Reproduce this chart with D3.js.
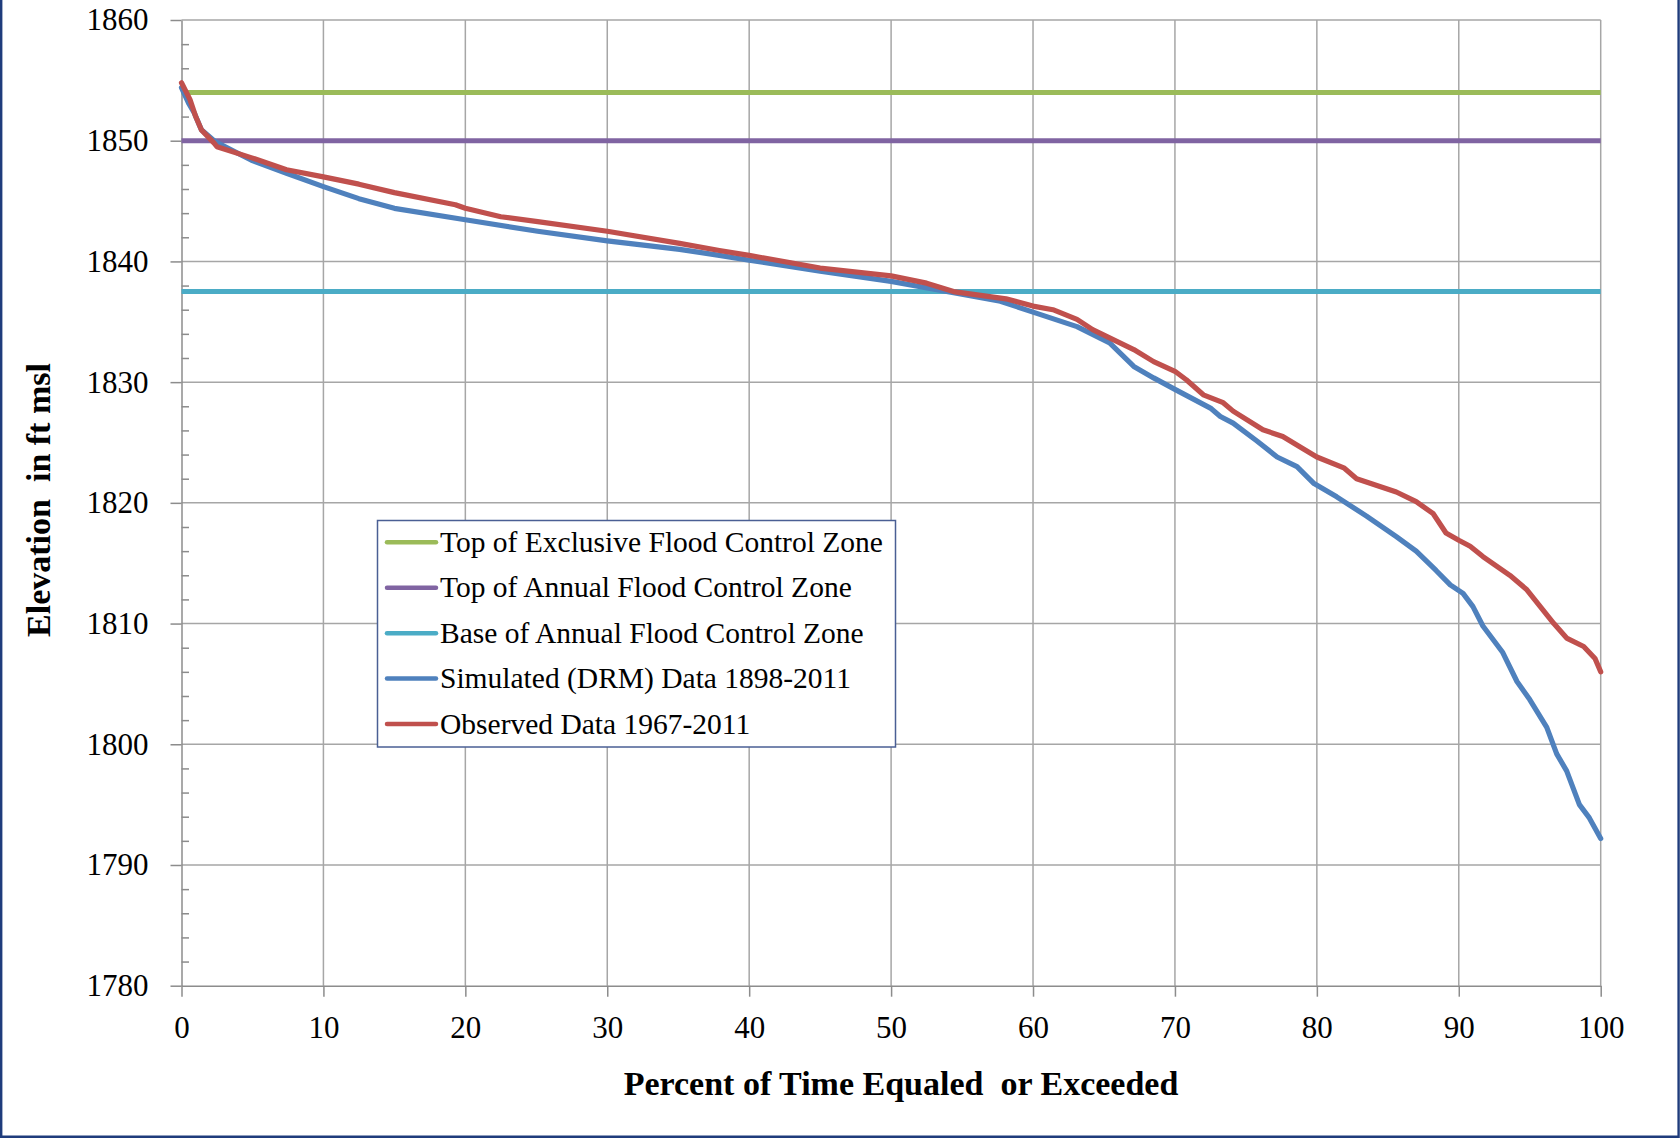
<!DOCTYPE html>
<html>
<head>
<meta charset="utf-8">
<script src="https://cdn.jsdelivr.net/npm/d3@7/dist/d3.min.js"></script>
<style>
  html, body { margin: 0; padding: 0; background: #fff; }
  svg { display: block; }
  text { font-family: "Liberation Serif", "Times New Roman", serif; fill: #000; }
</style>
</head>
<body>
<svg id="chart" width="1680" height="1138"></svg>
<script>
// ---- Data ----
const xTicks = [0, 10, 20, 30, 40, 50, 60, 70, 80, 90, 100];
const yTicks = [1780, 1790, 1800, 1810, 1820, 1830, 1840, 1850, 1860];

const topExclusive = 1854;
const topAnnual = 1850;
const baseAnnual = 1837.5;

const simX = [0, 0.5, 0.9, 1.4, 2.4, 4.9, 7.4, 10, 12.5, 15, 20, 25.1, 30, 35.1, 37.9, 40, 45, 50, 54.4, 57.7, 60, 63.1, 65.4, 67.1, 68.5, 70, 72.5, 73.2, 74.1, 75.8, 77.2, 78.6, 79.8, 81.4, 83.5, 85.6, 87, 88.4, 89.4, 90.3, 91, 91.7, 93.1, 94.1, 95, 96.2, 96.9, 97.6, 98.5, 99.2, 100];
const simY = [1854.4, 1853.1, 1852.3, 1850.9, 1849.9, 1848.4, 1847.3, 1846.2, 1845.2, 1844.4, 1843.45, 1842.5, 1841.7, 1841.0, 1840.5, 1840.1, 1839.2, 1838.35, 1837.4, 1836.7, 1835.8, 1834.6, 1833.25, 1831.3, 1830.35, 1829.4, 1827.85, 1827.15, 1826.6, 1825.1, 1823.8, 1823.0, 1821.6, 1820.5, 1818.9, 1817.2, 1816.0, 1814.4, 1813.2, 1812.5, 1811.4, 1809.8, 1807.6, 1805.2, 1803.7, 1801.4, 1799.2, 1797.8, 1795.0, 1793.9, 1792.2];

const obsX = [0, 0.6, 1.0, 1.4, 2.3, 2.5, 4.9, 7.4, 10, 12.5, 15, 19.3, 20, 22.5, 25.1, 30, 35.1, 37.9, 40, 45, 50, 52.5, 54.4, 58.1, 60, 61.4, 63.1, 64.2, 67.1, 68.5, 70, 70.8, 72, 73.4, 74.1, 76.2, 77.6, 79, 80, 81.9, 82.8, 85.6, 87, 88.2, 89.1, 90, 90.8, 91.7, 93.6, 94.8, 96.7, 97.6, 98.8, 99.6, 100];
const obsY = [1854.8, 1853.4, 1852.0, 1850.9, 1849.8, 1849.5, 1848.6, 1847.6, 1847.0, 1846.4, 1845.7, 1844.7, 1844.4, 1843.7, 1843.3, 1842.5, 1841.5, 1840.9, 1840.5, 1839.45, 1838.8, 1838.2, 1837.5, 1836.9, 1836.3, 1836.0, 1835.2, 1834.35, 1832.7, 1831.7, 1830.9, 1830.2, 1828.95, 1828.3, 1827.6, 1826.05, 1825.5, 1824.5, 1823.8, 1822.9, 1822.0, 1820.9, 1820.1, 1819.1, 1817.5, 1816.9, 1816.4, 1815.55, 1814.0, 1812.8, 1810.0, 1808.8, 1808.1, 1807.1, 1806.0];

const seriesNames = [
  "Top of Exclusive Flood Control Zone",
  "Top of Annual Flood Control Zone",
  "Base of Annual Flood Control Zone",
  "Simulated (DRM) Data 1898-2011",
  "Observed Data 1967-2011"
];
const seriesColors = ["#9bbb59", "#8064a2", "#4bacc6", "#4f81bd", "#c0504d"];

// ---- Layout ----
const svg = d3.select("#chart");
const L = 181.5, R = 1600.7, T = 20, B = 985.7;
const x = d3.scaleLinear().domain([0, 100]).range([L, R]);
const y = d3.scaleLinear().domain([1780, 1860]).range([B, T]);

// outer frame (left, bottom, right)
svg.append("path")
  .attr("d", `M1.2,0 V1136.8 H1678.6 V0`)
  .attr("fill", "none").attr("stroke", "#1f3c7c").attr("stroke-width", 2.4);

// gridlines
const grid = svg.append("g").attr("stroke", "#a6a6a6").attr("stroke-width", 1.5);
grid.selectAll("line.v").data(xTicks.filter(d => d > 0)).enter().append("line")
  .attr("x1", d => x(d)).attr("x2", d => x(d)).attr("y1", T).attr("y2", B);
grid.selectAll("line.h").data(yTicks.filter(d => d > 1780)).enter().append("line")
  .attr("x1", L).attr("x2", R).attr("y1", d => y(d)).attr("y2", d => y(d));

// y axis major
svg.append("g").attr("transform", `translate(${L},0)`)
  .call(d3.axisLeft(y).tickValues(yTicks).tickSize(11).tickPadding(22).tickSizeOuter(0).tickFormat(d3.format("d")));
// y minor ticks (inside)
const minorVals = d3.range(1780, 1861, 2).filter(v => v % 10 !== 0);
svg.append("g").attr("transform", `translate(${L},0)`)
  .call(d3.axisRight(y).tickValues(minorVals).tickSize(7.5).tickFormat("").tickSizeOuter(0))
  .call(g => g.select(".domain").remove());

// x axis
svg.append("g").attr("transform", `translate(0,${B})`)
  .call(d3.axisBottom(x).tickValues(xTicks).tickSize(11).tickPadding(19).tickSizeOuter(0).tickFormat(d3.format("d")));

svg.selectAll(".tick line").attr("stroke", "#8c8c8c").attr("stroke-width", 1.5);
svg.selectAll(".domain").attr("stroke", "#8c8c8c").attr("stroke-width", 1.5);
svg.selectAll(".tick text").style("font-family", "'Liberation Serif', 'Times New Roman', serif")
  .style("font-size", "31px").attr("fill", "#000");

// reference lines
const refVals = [topExclusive, topAnnual, baseAnnual];
svg.append("g").selectAll("line").data(refVals).enter().append("line")
  .attr("x1", x(0)).attr("x2", x(100))
  .attr("y1", d => y(d)).attr("y2", d => y(d))
  .attr("stroke", (d, i) => seriesColors[i]).attr("stroke-width", 5);

// data lines
const line = d3.line().x(d => x(d[0])).y(d => y(d[1]));
const simData = simX.map((v, i) => [v, simY[i]]);
const obsData = obsX.map((v, i) => [v, obsY[i]]);
svg.append("path").datum(simData).attr("d", line)
  .attr("fill", "none").attr("stroke", seriesColors[3]).attr("stroke-width", 5.2)
  .attr("stroke-linejoin", "round").attr("stroke-linecap", "round");
svg.append("path").datum(obsData).attr("d", line)
  .attr("fill", "none").attr("stroke", seriesColors[4]).attr("stroke-width", 5.2)
  .attr("stroke-linejoin", "round").attr("stroke-linecap", "round");

// axis titles
svg.append("text")
  .attr("x", 901).attr("y", 1095)
  .attr("text-anchor", "middle")
  .style("font-size", "34px").style("font-weight", "bold").style("white-space", "pre")
  .text("Percent of Time Equaled  or Exceeded");
svg.append("text")
  .attr("transform", "translate(50,500) rotate(-90)")
  .attr("text-anchor", "middle")
  .style("font-size", "34px").style("font-weight", "bold").style("white-space", "pre")
  .text("Elevation  in ft msl");

// legend
const lg = svg.append("g");
lg.append("rect").attr("x", 377.5).attr("y", 520.5).attr("width", 518).attr("height", 226.5)
  .attr("fill", "#fff").attr("stroke", "#4a5f94").attr("stroke-width", 1.5);
const rowY = d3.scaleLinear().domain([0, 4]).range([542.3, 724]);
const items = lg.selectAll("g.item").data(seriesNames).enter().append("g")
  .attr("transform", (d, i) => `translate(0,${rowY(i)})`);
items.append("line").attr("x1", 387).attr("x2", 436).attr("y1", 0).attr("y2", 0)
  .attr("stroke", (d, i) => seriesColors[i]).attr("stroke-width", 4.5).attr("stroke-linecap", "round");
items.append("text").attr("x", 440).attr("y", 0).attr("dy", "0.33em")
  .style("font-size", "29.5px").text(d => d);
</script>
</body>
</html>
